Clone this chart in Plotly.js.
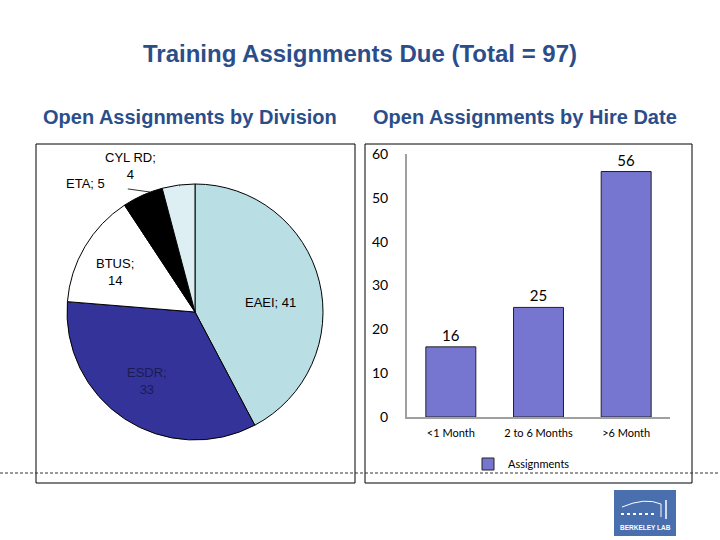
<!DOCTYPE html>
<html>
<head>
<meta charset="utf-8">
<script src="https://cdn.plot.ly/plotly-3.0.1.min.js"></script>
<style>
  html, body { margin: 0; padding: 0; background: #fff; }
  #chart { width: 720px; height: 540px; }
</style>
</head>
<body>
<div id="chart"></div>
<script>
// division pie
const divisions = ['EAEI', 'ESDR', 'BTUS', 'ETA', 'CYL RD']
const divisionCounts = [41, 33, 14, 5, 4]
const divisionColors = ['#B9DFE4', '#333399', '#FFFFFF', '#000000', '#DDEFF2']

// hire date bars
const hireBuckets = ['<1 Month', '2 to 6 Months', '>6 Month']
const hireCounts = [16, 25, 56]

const blue = '#2B4E8A'
const px = x => x / 720
const py = y => 1 - y / 540
const arial = 'Liberation Sans, Arial'

const pie = {
    type: 'pie',
    labels: divisions,
    values: divisionCounts,
    sort: false,
    direction: 'clockwise',
    rotation: 0,
    marker: { colors: divisionColors, line: { color: '#000', width: 1 } },
    textinfo: 'none',
    hoverinfo: 'label+value',
    showlegend: false,
    domain: { x: [px(67), px(323)], y: [py(440), py(184)] }
}

const bars = {
    type: 'bar',
    name: 'Assignments',
    x: hireBuckets,
    y: hireCounts,
    text: hireCounts.map(String),
    textposition: 'outside',
    textfont: { family: 'Lato, Open Sans', size: 15, color: '#000' },
    cliponaxis: false,
    marker: { color: '#7676D1', line: { color: '#222', width: 1 } },
    xaxis: 'x',
    yaxis: 'y'
}

// pie label: "NAME; value", wrapped for the narrow ones
function pieLabel(i, wrap) {
    return divisions[i] + ';' + (wrap ? '<br>' : ' ') + divisionCounts[i]
}

function sliceText(i, x, y, wrap, color) {
    return {
        xref: 'paper', yref: 'paper', x: px(x), y: py(y),
        xanchor: 'center', yanchor: 'middle',
        text: pieLabel(i, wrap), showarrow: false,
        font: { family: arial, size: 13, color: color }
    }
}

const annotations = [
    {
        xref: 'paper', yref: 'paper', x: px(190), y: py(117),
        xanchor: 'center', yanchor: 'middle',
        text: '<b>Open Assignments by Division</b>', showarrow: false,
        font: { family: arial, size: 20, color: blue }
    },
    {
        xref: 'paper', yref: 'paper', x: px(525), y: py(117),
        xanchor: 'center', yanchor: 'middle',
        text: '<b>Open Assignments by Hire Date</b>', showarrow: false,
        font: { family: arial, size: 20, color: blue }
    },
    sliceText(0, 270, 302, false, '#000'),
    sliceText(1, 147, 381, true, '#1C1C55'),
    sliceText(2, 115, 272, true, '#000'),
    {
        // ETA outside label
        xref: 'paper', yref: 'paper', x: px(150), y: py(192),
        ax: -65, ay: -9, axref: 'pixel', ayref: 'pixel',
        xanchor: 'center', yanchor: 'middle',
        text: pieLabel(3, false), showarrow: true,
        arrowhead: 0, arrowwidth: 0.8, arrowcolor: '#000', standoff: 0, startstandoff: 22,
        font: { family: arial, size: 13, color: '#000' }
    },
    {
        // CYL RD outside label
        xref: 'paper', yref: 'paper', x: px(180), y: py(186),
        ax: -50, ay: -20, axref: 'pixel', ayref: 'pixel',
        xanchor: 'center', yanchor: 'middle',
        text: pieLabel(4, true), showarrow: true,
        arrowhead: 0, arrowwidth: 0.8, arrowcolor: '#000', standoff: 0, startstandoff: 24,
        font: { family: arial, size: 13, color: '#000' }
    },
    {
        xref: 'paper', yref: 'paper', x: px(645), y: py(527),
        xanchor: 'center', yanchor: 'middle',
        text: '<b>BERKELEY LAB</b>', showarrow: false,
        font: { family: arial, size: 6.5, color: '#fff' }
    }
]

const shapes = [
    { type: 'rect', xref: 'paper', yref: 'paper', x0: px(36), x1: px(355), y0: py(483), y1: py(144), line: { color: '#000', width: 1 } },
    { type: 'rect', xref: 'paper', yref: 'paper', x0: px(365), x1: px(692), y0: py(483), y1: py(144), line: { color: '#000', width: 1 } },
    { type: 'line', xref: 'paper', yref: 'paper', x0: 0, x1: 1, y0: py(473), y1: py(473), line: { color: '#333', width: 1, dash: '3px,2px' } },
    // logo
    { type: 'rect', xref: 'paper', yref: 'paper', x0: px(614), x1: px(676), y0: py(536), y1: py(490), fillcolor: '#4A6FAE', line: { width: 0 } },
    { type: 'path', xref: 'paper', yref: 'paper', path: 'M ' + px(622) + ' ' + py(507) + ' Q ' + px(645) + ' ' + py(497) + ' ' + px(661) + ' ' + py(504) + ' L ' + px(661) + ' ' + py(517), line: { color: '#fff', width: 1 } },
    { type: 'line', xref: 'paper', yref: 'paper', x0: px(621), x1: px(655), y0: py(514), y1: py(514), line: { color: '#fff', width: 2, dash: 'dot' } },
    { type: 'line', xref: 'paper', yref: 'paper', x0: px(666), x1: px(666), y0: py(519), y1: py(500), line: { color: '#fff', width: 1.5 } }
]

const layout = {
    width: 720,
    height: 540,
    margin: { l: 0, r: 0, t: 0, b: 0 },
    paper_bgcolor: '#fff',
    plot_bgcolor: '#fff',
    title: {
        text: '<b>Training Assignments Due (Total = 97)</b>',
        x: 0.5, xanchor: 'center', y: py(54), yanchor: 'middle',
        font: { family: arial, size: 24, color: blue }
    },
    xaxis: {
        domain: [px(407), px(670)],
        showline: true, linecolor: '#A0A0A0', linewidth: 2,
        showgrid: false, ticks: 'outside', ticklen: 5, tickcolor: 'rgba(0,0,0,0)',
        tickfont: { family: 'Lato, Open Sans', size: 11, color: '#000' },
        fixedrange: true
    },
    yaxis: {
        domain: [py(417), py(154)],
        range: [0, 60], dtick: 10,
        showline: true, linecolor: '#A0A0A0', linewidth: 2,
        showgrid: false, zeroline: false, ticks: 'outside', ticklen: 14, tickcolor: 'rgba(0,0,0,0)',
        tickfont: { family: 'Lato, Open Sans', size: 14, color: '#000' },
        fixedrange: true
    },
    bargap: 0.43,
    showlegend: true,
    legend: {
        x: px(468), y: py(464), xanchor: 'left', yanchor: 'middle',
        font: { family: 'Lato, Open Sans', size: 11, color: '#000' },
        bgcolor: 'rgba(0,0,0,0)', itemwidth: 30
    },
    annotations: annotations,
    shapes: shapes
}

Plotly.newPlot('chart', [pie, bars], layout, { displayModeBar: false, staticPlot: true })
</script>
</body>
</html>
